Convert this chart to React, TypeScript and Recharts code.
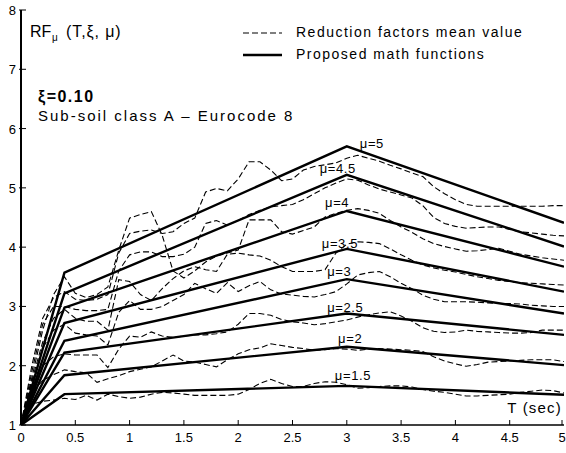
import React from 'react';
import { LineChart, Line, XAxis, YAxis, ReferenceDot } from 'recharts';

const FONT = '"Liberation Sans", Arial, sans-serif';

// period grid for the "mean value" curves (sec)
const tGrid = [
  0, 0.1, 0.2, 0.3, 0.4, 0.5, 0.6, 0.7, 0.8, 0.9,
  1, 1.1, 1.2, 1.3, 1.4, 1.5, 1.6, 1.7, 1.8, 1.9,
  2, 2.1, 2.2, 2.3, 2.4, 2.5, 2.6, 2.7, 2.8, 2.9,
  3, 3.1, 3.2, 3.3, 3.4, 3.5, 3.6, 3.7, 3.8, 3.9,
  4, 4.1, 4.2, 4.3, 4.4, 4.5, 4.6, 4.7, 4.8, 4.9,
  5,
];

// reduction factors mean value (dashed)
const mean15 = [1, 1.35, 1.4, 1.42, 1.45, 1.43, 1.5, 1.42, 1.52, 1.48, 1.45, 1.47, 1.52, 1.55, 1.54, 1.52, 1.5, 1.5, 1.5, 1.5, 1.52, 1.6, 1.7, 1.77, 1.7, 1.65, 1.65, 1.7, 1.73, 1.72, 1.68, 1.62, 1.63, 1.65, 1.66, 1.66, 1.64, 1.6, 1.57, 1.55, 1.52, 1.49, 1.49, 1.5, 1.51, 1.52, 1.55, 1.57, 1.59, 1.58, 1.54];
const mean2 = [1, 1.55, 1.75, 1.85, 1.93, 1.9, 1.88, 1.72, 1.78, 1.83, 1.9, 1.94, 1.98, 2.08, 2.18, 2.08, 2.06, 2.02, 1.98, 2.1, 2.2, 2.27, 2.3, 2.37, 2.34, 2.31, 2.29, 2.26, 2.27, 2.29, 2.28, 2.26, 2.28, 2.29, 2.28, 2.27, 2.26, 2.24, 2.15, 2.08, 2.03, 1.99, 2.02, 2.06, 2.07, 2.08, 2.09, 2.1, 2.1, 2.1, 2.07];
const mean25 = [1, 1.75, 2.0, 2.15, 2.2, 2.18, 2.18, 2.18, 1.97, 2.28, 2.5, 2.48, 2.57, 2.5, 2.48, 2.5, 2.52, 2.52, 2.54, 2.57, 2.7, 2.88, 2.88, 2.85, 2.78, 2.74, 2.72, 2.69, 2.71, 2.74, 2.77, 2.82, 2.86, 2.89, 2.91, 2.84, 2.75, 2.64, 2.58, 2.56, 2.57, 2.6, 2.58, 2.57, 2.56, 2.55, 2.55, 2.56, 2.6, 2.6, 2.6];
const mean3 = [1, 1.7, 2.3, 2.6, 2.7, 2.55, 2.52, 2.5, 2.35, 2.9, 3.1, 2.95, 2.95, 3.0, 3.1, 3.2, 3.39, 3.3, 3.22, 3.4, 3.25, 3.35, 3.42, 3.28, 3.21, 3.19, 3.17, 3.16, 3.2, 3.25, 3.38, 3.53, 3.57, 3.59, 3.5, 3.39, 3.3, 3.19, 3.12, 3.08, 3.08, 3.08, 3.07, 3.06, 3.05, 3.05, 3.04, 3.02, 3.01, 3.0, 3.0];
const mean35 = [1, 1.75, 2.4, 2.8, 2.95, 2.8, 2.75, 2.75, 2.6, 3.45, 3.42, 3.2, 3.1, 3.3, 3.47, 3.6, 3.67, 3.62, 3.59, 3.88, 3.9, 3.87, 3.85, 3.78, 3.67, 3.59, 3.59, 3.59, 3.62, 3.9, 4.05, 4.09, 4.08, 4.06, 3.97, 3.87, 3.78, 3.7, 3.65, 3.61, 3.58, 3.54, 3.5, 3.47, 3.44, 3.42, 3.4, 3.39, 3.38, 3.37, 3.36];
const mean4 = [1, 1.8, 2.6, 3.2, 3.5, 3.22, 3.15, 3.2, 3.33, 3.95, 4.49, 4.55, 4.6, 4.2, 3.6, 3.48, 3.6, 3.75, 3.85, 3.9, 3.95, 4.46, 4.46, 4.46, 4.26, 4.22, 4.28, 4.34, 4.51, 4.57, 4.62, 4.65, 4.62, 4.57, 4.45, 4.34, 4.25, 4.14, 4.06, 4.01, 3.97, 3.93, 3.94, 3.96, 3.98, 3.93, 3.88, 3.85, 3.82, 3.8, 3.78];
const mean45 = [1, 1.9, 2.7, 3.0, 3.0, 2.95, 2.93, 2.93, 2.95, 3.6, 3.87, 3.92, 3.92, 3.84, 3.84, 3.88, 4.0, 4.4, 4.45, 4.37, 4.45, 4.55, 4.62, 4.68, 4.7, 4.72, 4.8, 4.9, 5.0, 5.08, 5.15, 5.13, 5.05, 4.98, 4.93, 4.88, 4.83, 4.7, 4.5, 4.4, 4.35, 4.32, 4.33, 4.34, 4.34, 4.3, 4.26, 4.24, 4.22, 4.2, 4.19];
const mean5 = [1, 2.0, 2.8, 3.15, 3.25, 3.12, 3.1, 3.12, 3.2, 3.9, 4.23, 4.27, 4.29, 4.23, 4.26, 4.4, 4.49, 4.93, 4.99, 4.95, 5.15, 5.44, 5.44, 5.3, 5.12, 5.15, 5.3, 5.36, 5.39, 5.42, 5.5, 5.55, 5.5, 5.45, 5.38, 5.32, 5.25, 5.19, 5.02, 4.9, 4.8, 4.72, 4.69, 4.69, 4.69, 4.69, 4.69, 4.69, 4.69, 4.7, 4.7];

// proposed math functions (solid), knots at T = 0, 0.4, 3, 5
const tKnots = [0, 0.4, 3, 5];
const fit15 = [1, 1.52, 1.66, 1.51];
const fit2 = [1, 1.84, 2.32, 2.01];
const fit25 = [1, 2.22, 2.88, 2.52];
const fit3 = [1, 2.42, 3.46, 2.88];
const fit35 = [1, 2.72, 3.97, 3.25];
const fit4 = [1, 2.98, 4.61, 3.67];
const fit45 = [1, 3.22, 5.22, 4.01];
const fit5 = [1, 3.57, 5.7, 4.41];

// curve labels
const muNames = ['μ=5', 'μ=4.5', 'μ=4', 'μ=3.5', 'μ=3', 'μ=2.5', 'μ=2', 'μ=1.5'];
const muLabelT = [3.12, 2.75, 2.8, 2.77, 2.82, 2.82, 2.92, 2.89];
const muLabelV = [5.67, 5.25, 4.67, 3.98, 3.52, 2.91, 2.39, 1.76];

const xTicks = [0, 0.5, 1, 1.5, 2, 2.5, 3, 3.5, 4, 4.5, 5];
const yTicks = [1, 2, 3, 4, 5, 6, 7, 8];

const meanKeys = ['m15', 'm2', 'm25', 'm3', 'm35', 'm4', 'm45', 'm5'];
const meanSeries = [mean15, mean2, mean25, mean3, mean35, mean4, mean45, mean5];
const fitKeys = ['f15', 'f2', 'f25', 'f3', 'f35', 'f4', 'f45', 'f5'];
const fitSeries = [fit15, fit2, fit25, fit3, fit35, fit4, fit45, fit5];

const meanData = tGrid.map((t, i) => {
  const row: any = { t };
  meanKeys.forEach((k, j) => { row[k] = meanSeries[j][i]; });
  return row;
});

const fitData = tKnots.map((t, i) => {
  const row: any = { t };
  fitKeys.forEach((k, j) => { row[k] = fitSeries[j][i]; });
  return row;
});

const txt = { fontFamily: FONT, fill: '#000' };

const BottomTick = ({ x, y, payload }: any) => (
  <g>
    <line x1={x} y1={y} x2={x} y2={y - 5} stroke="#000" />
    <text x={x} y={y + 17} textAnchor="middle" fontSize={13} {...txt}>{payload.value}</text>
  </g>
);

const TopTick = ({ x, y }: any) => <line x1={x} y1={y} x2={x} y2={y + 5} stroke="#000" />;

const LeftTick = ({ x, y, payload }: any) => (
  <g>
    <line x1={x - 2} y1={y} x2={x + 5} y2={y} stroke="#000" />
    <text x={x - 5} y={y + 5} textAnchor="end" fontSize={13} {...txt}>{payload.value}</text>
  </g>
);

const RightTick = ({ x, y }: any) => <line x1={x} y1={y} x2={x - 5} y2={y} stroke="#000" />;

const App = () => {
  return (
    <div style={{ position: 'absolute', left: 0, top: 0, width: 566, height: 453, background: '#fff' }}>
      <LineChart width={566} height={453} margin={{ top: 10, right: 2, bottom: 0, left: 0 }}>
        <XAxis
          dataKey="t"
          type="number"
          domain={[0, 5]}
          ticks={xTicks}
          height={28}
          tickSize={0}
          tickMargin={0}
          tickLine={false}
          tick={<BottomTick />}
          axisLine={{ stroke: '#000', strokeWidth: 1.5 }}
          allowDataOverflow
        />
        <XAxis
          xAxisId="top"
          orientation="top"
          dataKey="t"
          type="number"
          domain={[0, 5]}
          ticks={xTicks}
          height={0}
          tickSize={0}
          tickMargin={0}
          tickLine={false}
          tick={<TopTick />}
          axisLine={{ stroke: '#000' }}
        />
        <YAxis
          type="number"
          domain={[1, 8]}
          ticks={yTicks}
          width={21}
          tickSize={0}
          tickMargin={0}
          tickLine={false}
          tick={<LeftTick />}
          axisLine={{ stroke: '#000', strokeWidth: 2 }}
          allowDataOverflow
        />
        <YAxis
          yAxisId="right"
          orientation="right"
          type="number"
          domain={[1, 8]}
          ticks={yTicks}
          width={0}
          tickSize={0}
          tickMargin={0}
          tickLine={false}
          tick={<RightTick />}
          axisLine={{ stroke: '#000' }}
        />
        {meanKeys.map((k) => (
          <Line
            key={k}
            data={meanData}
            dataKey={k}
            stroke="#000"
            strokeWidth={1.1}
            strokeDasharray="6 3"
            dot={false}
            isAnimationActive={false}
          />
        ))}
        {fitKeys.map((k) => (
          <Line
            key={k}
            data={fitData}
            dataKey={k}
            stroke="#000"
            strokeWidth={2.4}
            dot={false}
            isAnimationActive={false}
          />
        ))}
        {muNames.map((name, i) => (
          <ReferenceDot
            key={name}
            x={muLabelT[i]}
            y={muLabelV[i]}
            r={0}
            ifOverflow="visible"
            shape={(p: any) => (
              <text x={p.cx} y={p.cy} fontSize={13} letterSpacing={0.6} {...txt}>{name}</text>
            )}
          />
        ))}
      </LineChart>
      <svg width={566} height={453} style={{ position: 'absolute', left: 0, top: 0, pointerEvents: 'none' }}>
        <text x={30} y={37} fontSize={16} {...txt}>RF</text>
        <text x={52} y={41} fontSize={10} {...txt}>μ</text>
        <text x={66} y={37} fontSize={16} letterSpacing={0.9} {...txt}>(T,ξ, μ)</text>
        <text x={38} y={102} fontSize={16} fontWeight="bold" letterSpacing={1.5} {...txt}>ξ=0.10</text>
        <text x={38} y={121} fontSize={15} letterSpacing={2} {...txt}>Sub-soil class A – Eurocode 8</text>
        <line x1={243} y1={33} x2={282} y2={33} stroke="#000" strokeWidth={1.1} strokeDasharray="6 3" />
        <text x={296} y={37} fontSize={14} letterSpacing={1.5} {...txt}>Reduction factors mean value</text>
        <line x1={243} y1={55} x2={282} y2={55} stroke="#000" strokeWidth={2.4} />
        <text x={296} y={59} fontSize={14} letterSpacing={1.5} {...txt}>Proposed math functions</text>
        <text x={562} y={413} fontSize={15} letterSpacing={1.2} textAnchor="end" {...txt}>T (sec)</text>
      </svg>
    </div>
  );
};

export default App;
